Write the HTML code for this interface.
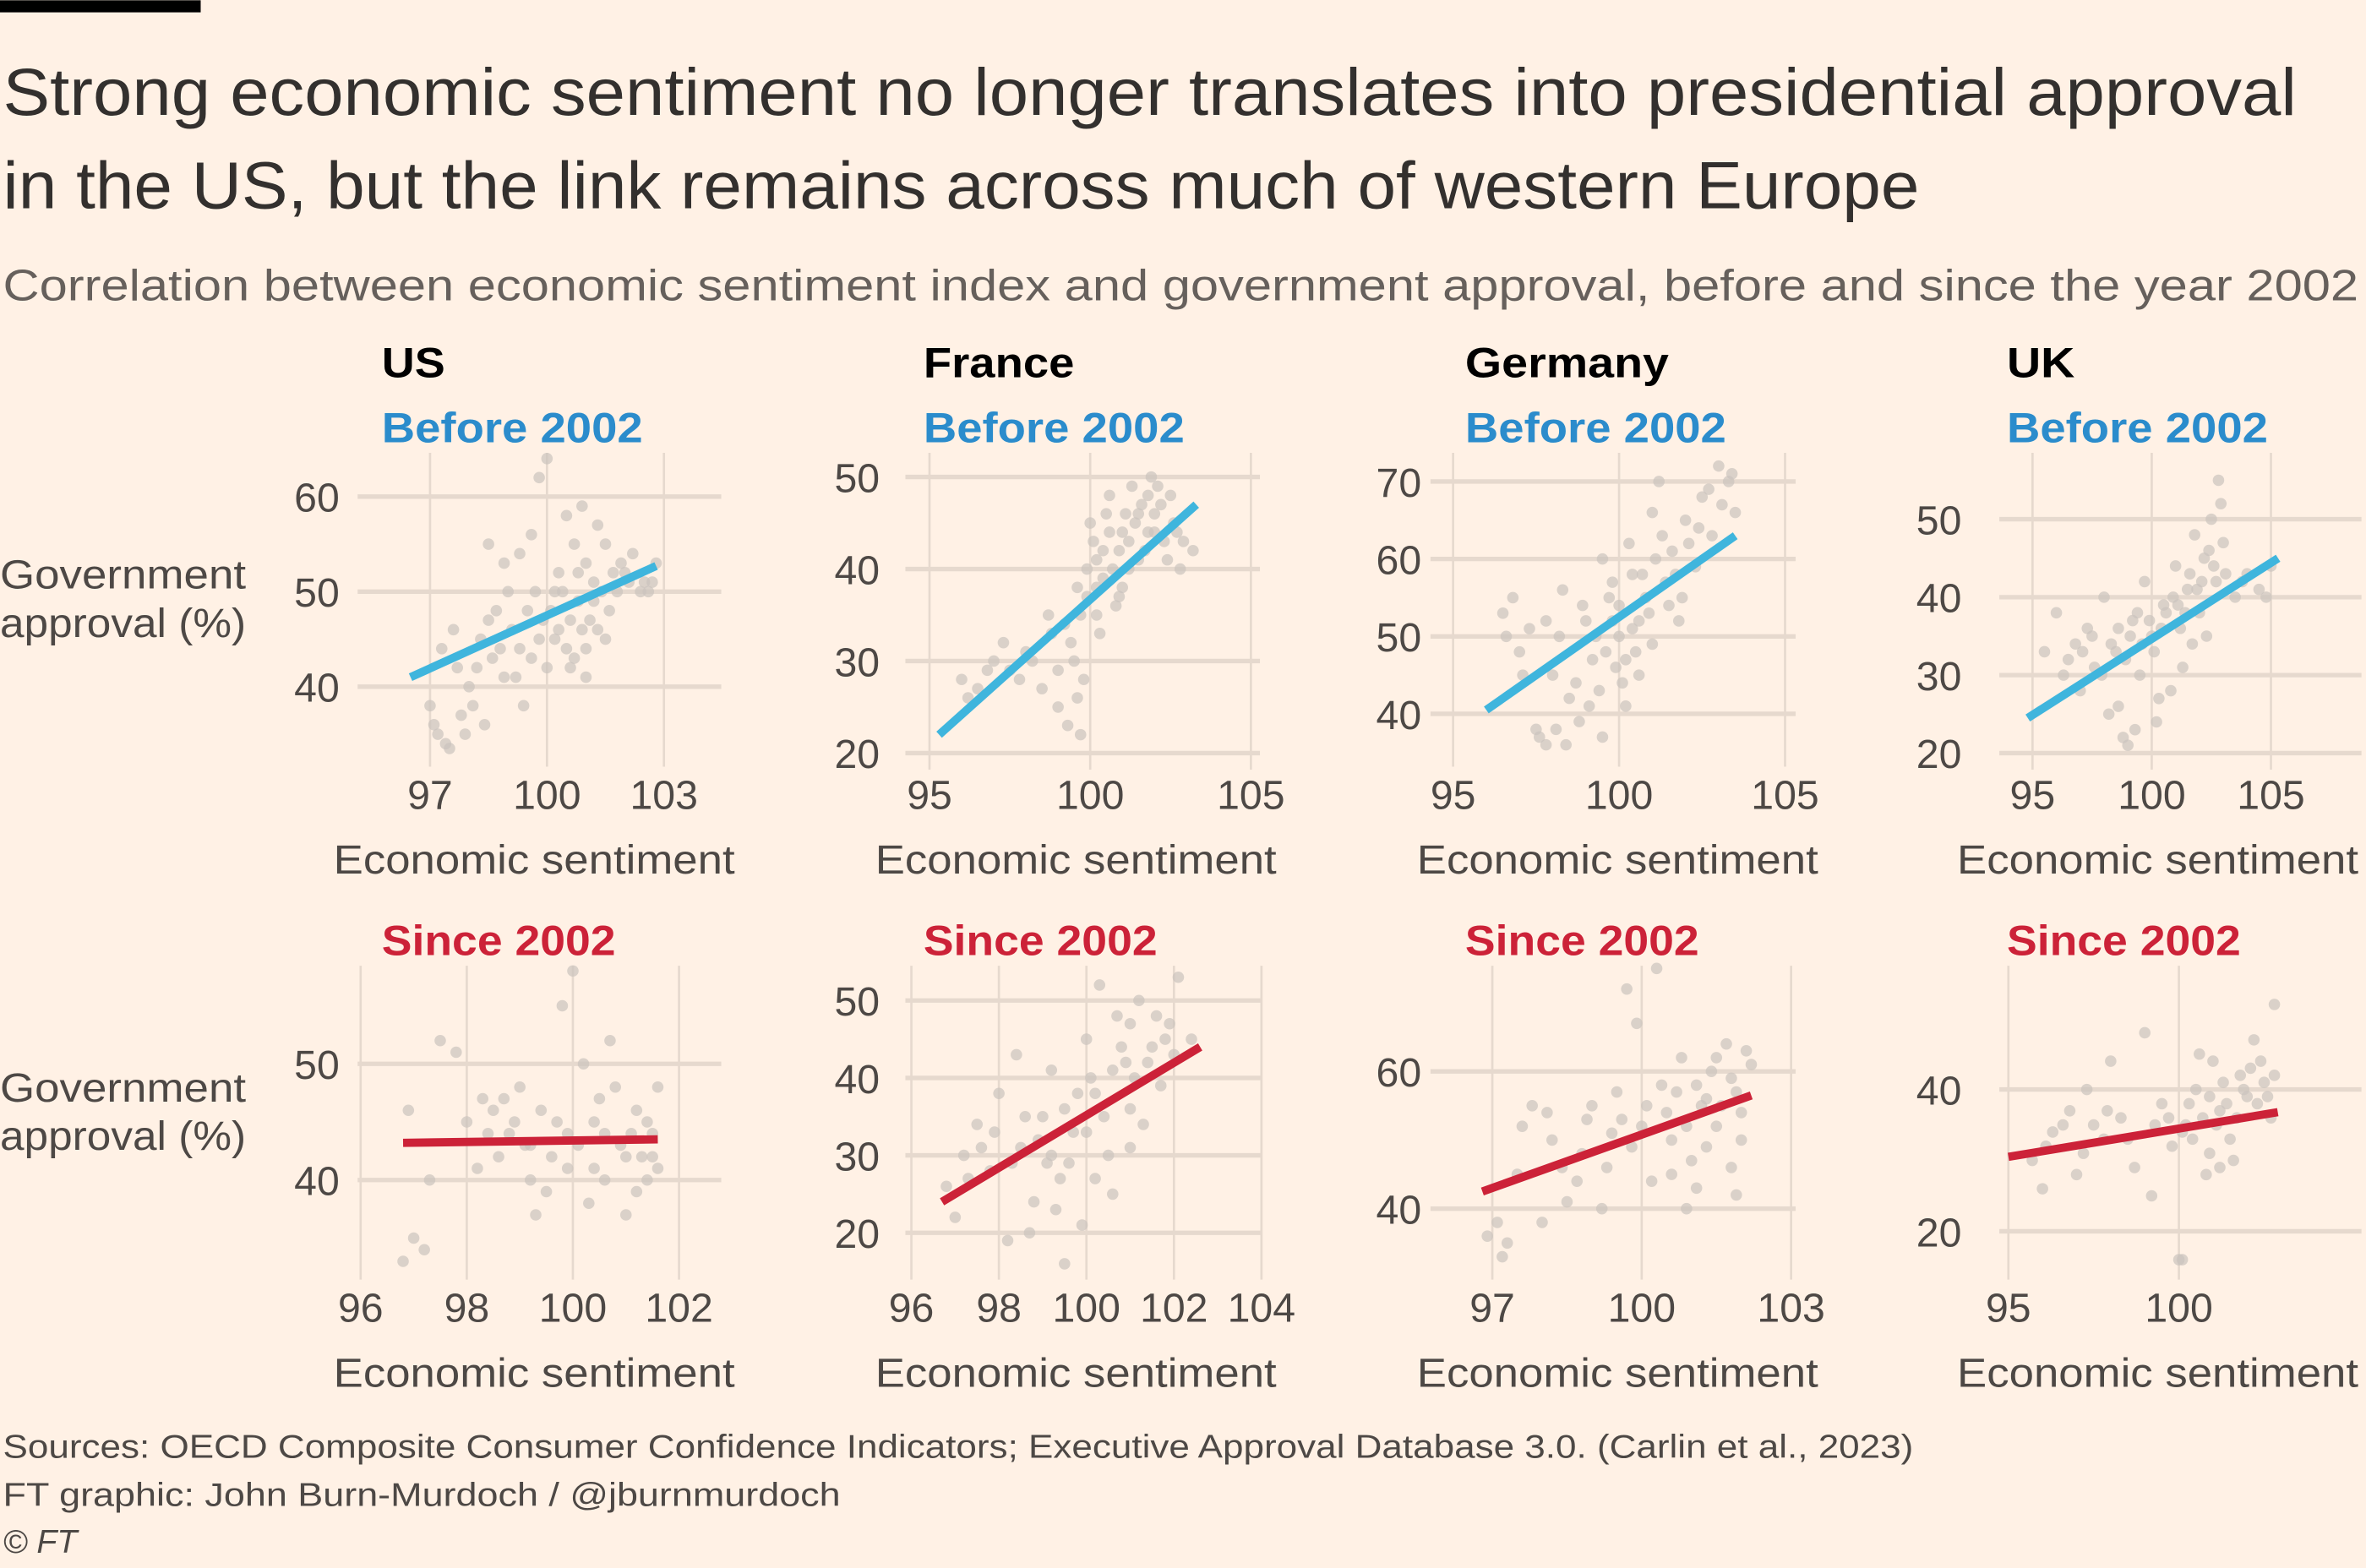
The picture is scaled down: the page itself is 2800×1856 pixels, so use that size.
<!DOCTYPE html>
<html><head><meta charset="utf-8">
<style>
html,body{margin:0;padding:0;background:#fff1e5;}
svg{display:block;font-family:"Liberation Sans","DejaVu Sans",sans-serif;}
</style></head>
<body>
<svg id="chart" width="2800" height="1856" viewBox="0 0 1568 1039" xmlns="http://www.w3.org/2000/svg">
<rect width="1568" height="1039" fill="#fff1e5"/>
<rect x="0" y="0" width="133" height="8" fill="#000"/>
<text x="2" y="76" font-size="44" fill="#33302e" textLength="1520" lengthAdjust="spacingAndGlyphs">Strong economic sentiment no longer translates into presidential approval</text>
<text x="2" y="138" font-size="44" fill="#33302e" textLength="1270" lengthAdjust="spacingAndGlyphs">in the US, but the link remains across much of western Europe</text>
<text x="2" y="199" font-size="29" fill="#66605c" textLength="1561" lengthAdjust="spacingAndGlyphs">Correlation between economic sentiment index and government approval, before and since the year 2002</text>
<text x="0" y="390" font-size="27" fill="#4d4845" textLength="163" lengthAdjust="spacingAndGlyphs">Government</text>
<text x="0" y="422" font-size="27" fill="#4d4845" textLength="163" lengthAdjust="spacingAndGlyphs">approval (%)</text>
<text x="0" y="730" font-size="27" fill="#4d4845" textLength="163" lengthAdjust="spacingAndGlyphs">Government</text>
<text x="0" y="762" font-size="27" fill="#4d4845" textLength="163" lengthAdjust="spacingAndGlyphs">approval (%)</text>
<text x="2" y="966" font-size="22" fill="#4d4845" textLength="1266" lengthAdjust="spacingAndGlyphs">Sources: OECD Composite Consumer Confidence Indicators; Executive Approval Database 3.0. (Carlin et al., 2023)</text>
<text x="2" y="998" font-size="22" fill="#4d4845" textLength="555" lengthAdjust="spacingAndGlyphs">FT graphic: John Burn-Murdoch / @jburnmurdoch</text>
<text x="2" y="1029" font-size="22" fill="#4d4845" font-style="italic">© FT</text>
<g id="panels"></g>
</svg>
<script>
// ---- data ----
const countries = ["US","France","Germany","UK"];
const periods = ["Before 2002","Since 2002"];

const xTicksUSBefore = [97,100,103];
const yTicksUSBefore = [40,50,60];
const fitUSBefore = [[96.5,41],[102.8,52.7]];
const ptsUSBefore = [[97,38],[97.2,35],[97.5,33.5],[97.8,37],[98,40],[97.3,44],[97.6,46],[98.2,42],[98.5,47],[98.8,44],[99,50],[99.2,41],[99.5,48],[99.6,56],[99.8,62],[100,64],[100.2,45],[100.3,52],[100.5,58],[100.6,47],[100.8,49],[101,53],[101,44],[101.2,51],[101.5,55],[101.6,48],[101.8,50],[102,52],[102.2,54],[102.5,51],[102.8,53],[102.6,50],[100,42],[99.4,38],[98.4,36],[100.7,55],[101.3,46],[99.9,47],[100.4,50],[98.9,53],
 [97.1,36],[97.4,34],[97.9,35],[98.1,38],[98.3,45],[98.6,43],[98.9,41],[99.1,46],[99.3,44],[99.6,43],[99.8,45],[100.1,48],[100.3,46],[100.5,44],[100.7,43],[100.9,46],[101.1,47],[101.2,49],[101.4,50],[101.7,52],[101.9,53],[102.1,51],[102.4,50],[102.7,51],[100.2,50],[100.8,52],[101.5,45],[99.7,50],[98.7,48],[97.7,42],[101,41],[100.6,42],[99.3,54],[98.5,55],[100.9,59],[101.3,57]];

const xTicksFRBefore = [95,100,105];
const yTicksFRBefore = [20,30,40,50];
const fitFRBefore = [[95.3,22],[103.3,47]];
const ptsFRBefore = [[96,28],[96.5,27],[97,30],[97.5,29],[98,31],[98.5,27],[98.8,33],[99,25],[99.3,23],[99.5,30],[99.7,35],[99.9,40],[100,45],[100.2,38],[100.4,42],[100.6,48],[100.8,36],[101,44],[101.2,40],[101.3,49],[101.5,46],[101.7,42],[101.9,50],[102,44],[102.2,47],[102.4,41],[102.6,45],[102.9,43],[103.2,42],[100.3,33],[99.8,28],[101,38],[100.5,46],[101.8,48],[99.2,34],
 [96.2,26],[96.8,29],[97.3,32],[97.8,28],[98.2,30],[98.7,35],[99,29],[99.4,32],[99.6,26],[99.7,22],[99.9,37],[100.1,43],[100.2,41],[100.4,39],[100.6,44],[100.7,40],[100.9,42],[101.1,46],[101.2,43],[101.4,45],[101.6,47],[101.8,44],[102,46],[102.1,49],[102.3,43],[102.5,48],[102.7,44],[101.5,41],[100.9,37],[100.2,35],[99.6,38],[102.8,40]];

const xTicksDEBefore = [95,100,105];
const yTicksDEBefore = [40,50,60,70];
const fitDEBefore = [[96,40.5],[103.5,63]];
const ptsDEBefore = [[96.5,53],[96.8,55],[97,48],[97.3,51],[97.5,38],[97.8,36],[98,45],[98.3,56],[98.5,42],[98.8,39],[99,52],[99.2,47],[99.5,60],[99.7,55],[100,50],[100.1,44],[100.3,62],[100.5,48],[100.7,58],[100.9,53],[101,66],[101.2,70],[101.4,57],[101.6,61],[101.8,52],[102,65],[102.3,59],[102.5,68],[102.8,63],[103,72],[103.3,70],[103.5,66],[99.5,37],[100.2,41],[98.2,50],[99.8,57],
 [96.6,50],[97.1,45],[97.6,37],[98.1,38],[98.4,36],[98.7,44],[99.1,41],[99.3,50],[99.6,48],[99.8,52],[100,54],[100.2,47],[100.4,51],[100.6,45],[100.8,55],[101,49],[101.1,60],[101.3,63],[101.5,54],[101.7,58],[102.1,62],[102.4,64],[102.7,69],[103.1,67],[103.4,71],[100.4,58],[99.9,46],[99.4,43],[100.6,52],[101.9,55],[98.9,54],[97.8,52]];

const xTicksUKBefore = [95,100,105];
const yTicksUKBefore = [20,30,40,50];
const fitUKBefore = [[94.8,24.5],[105.3,45]];
const ptsUKBefore = [[95.5,33],[96,38],[96.3,30],[96.8,34],[97,28],[97.3,36],[97.6,31],[98,40],[98.2,25],[98.5,33],[98.8,22],[99,21],[99.2,37],[99.5,30],[99.7,42],[100,35],[100.2,24],[100.5,39],[100.8,28],[101,44],[101.2,36],[101.5,41],[101.8,48],[102,38],[102.2,45],[102.5,50],[102.7,42],[102.8,55],[103,47],[103.5,40],[104,43],[104.5,41],[105,44],[101.3,31],[100.3,27],
 [96.5,32],[97.1,33],[97.5,35],[97.9,30],[98.3,34],[98.6,36],[98.9,32],[99.1,35],[99.4,38],[99.6,34],[99.9,37],[100.1,33],[100.4,36],[100.6,38],[100.9,40],[101.1,39],[101.4,38],[101.6,43],[101.9,41],[102.1,42],[102.4,46],[102.6,44],[102.9,52],[103.1,43],[103.8,42],[104.8,40],[99.3,23],[98.6,26],[101.7,34],[102.3,35]];

const xTicksUSSince = [96,98,100,102];
const yTicksUSSince = [40,50];
const fitUSSince = [[96.8,43.2],[101.6,43.5]];
const ptsUSSince = [[96.8,33],[97,35],[97.2,34],[97.5,52],[97.8,51],[96.9,46],[97.3,40],[98,45],[98.2,41],[98.5,46],[98.8,44],[99,48],[99.2,43],[99.5,39],[99.7,45],[99.8,55],[100,58],[100.2,50],[100.4,41],[100.6,44],[100.8,48],[101,37],[101,42],[101.2,46],[101.4,40],[101.5,44],[101.6,48],[99.3,37],[98.6,42],[100.7,52],[100.3,38],[101.3,42],
 [98.4,44],[98.7,47],[98.9,45],[99.1,43],[99.4,46],[99.6,42],[99.9,44],[100.1,43],[100.4,45],[100.6,40],[100.9,43],[101.1,44],[101.2,39],[101.4,45],[101.5,42],[101.6,41],[99.9,41],[100.5,47],[98.3,47],[99.2,40]];

const xTicksFRSince = [96,98,100,102,104];
const yTicksFRSince = [20,30,40,50];
const fitFRSince = [[96.7,24],[102.6,44]];
const ptsFRSince = [[96.8,26],[97,22],[97.2,30],[97.5,34],[97.8,28],[98,38],[98.2,19],[98.5,31],[98.8,24],[99,35],[99.2,41],[99.4,27],[99.5,16],[99.7,33],[100,45],[100.2,38],[100.3,52],[100.5,30],[100.7,48],[100.9,42],[101,36],[101.2,50],[101.5,44],[101.7,39],[101.9,47],[102.1,53],[102.4,45],[99.9,21],[98.4,43],[100.6,25],[101.3,34],[99.1,29],
 [97.3,27],[97.6,31],[97.9,33],[98.3,29],[98.6,35],[98.9,32],[99.2,30],[99.5,36],[99.6,29],[99.8,38],[100,33],[100.1,40],[100.4,35],[100.6,41],[100.8,44],[101,47],[101.1,40],[101.4,42],[101.6,48],[101.8,45],[102,43],[100.2,27],[99.3,23],[98.7,20],[101,31]];

const xTicksDESince = [97,100,103];
const yTicksDESince = [40,60];
const fitDESince = [[96.8,42.5],[102.2,56.5]];
const ptsDESince = [[96.9,36],[97.2,33],[97.5,45],[97.8,55],[98,38],[98.2,50],[98.5,41],[98.8,48],[99,55],[99.3,46],[99.5,57],[99.7,72],[99.9,67],[100,52],[100.2,44],[100.4,58],[100.6,50],[100.8,62],[101,47],[101.2,55],[101.4,60],[101.5,52],[101.7,64],[101.9,57],[102,50],[102.2,61],[100.9,40],[99.2,40],[101.8,46],[100.3,75],
 [97.1,38],[97.6,52],[98.1,54],[98.4,46],[98.9,53],[99.4,51],[99.8,49],[100.1,55],[100.5,54],[100.7,57],[100.9,52],[101.1,58],[101.3,56],[101.5,62],[101.6,55],[101.8,59],[102,54],[102.1,63],[101.3,49],[100.6,45],[99.6,53],[98.7,44],[97.3,35],[101.1,43],[101.9,42]];

const xTicksUKSince = [95,100];
const yTicksUKSince = [20,40];
const fitUKSince = [[95,30.5],[102.9,36.8]];
const ptsUKSince = [[95.7,30],[96,26],[96.3,34],[96.8,37],[97,28],[97.3,40],[97.8,33],[98,44],[98.3,36],[98.7,29],[99,48],[99.5,38],[99.8,32],[100,16],[100.2,35],[100.5,40],[100.8,28],[101,44],[101.2,37],[101.5,33],[101.8,42],[102,39],[102.2,47],[102.5,41],[102.7,36],[102.8,52],[101.6,30],[100.6,45],[99.2,25],[97.5,35],
 [96.1,32],[96.6,35],[97.2,31],[97.9,37],[98.5,33],[99.3,35],[99.7,36],[100.1,34],[100.3,38],[100.4,33],[100.7,36],[100.9,39],[101.1,35],[101.3,41],[101.4,38],[101.7,36],[101.9,40],[102.1,43],[102.3,38],[102.4,44],[102.6,39],[102.8,42],[100.9,31],[101.2,29],[100.1,16]];

// ---- layout (pixel frames; not data) ----
const NS = "http://www.w3.org/2000/svg";
const root = document.getElementById('panels');
function mk(tag, attrs, txt){ const e=document.createElementNS(NS,tag); for(const k in attrs) e.setAttribute(k,attrs[k]); if(txt!==undefined) e.textContent=txt; return e; }

const titleW = {US:42, France:100, Germany:135, UK:45};
const panels = [
 {c:0,p:0,xt:xTicksUSBefore,yt:yTicksUSBefore,fit:fitUSBefore,pts:ptsUSBefore, xd:[97,103],xr:[285,440], yd:[40,60],yr:[455,329], box:[237,478,300,508], lab:225, cx:253, ax:221},
 {c:1,p:0,xt:xTicksFRBefore,yt:yTicksFRBefore,fit:fitFRBefore,pts:ptsFRBefore, xd:[95,105],xr:[616,829], yd:[20,50],yr:[499,316], box:[600,835,300,510], lab:583, cx:612, ax:580},
 {c:2,p:0,xt:xTicksDEBefore,yt:yTicksDEBefore,fit:fitDEBefore,pts:ptsDEBefore, xd:[95,105],xr:[963,1183], yd:[40,70],yr:[473,319], box:[948,1190,300,508], lab:942, cx:971, ax:939},
 {c:3,p:0,xt:xTicksUKBefore,yt:yTicksUKBefore,fit:fitUKBefore,pts:ptsUKBefore, xd:[95,105],xr:[1347,1505], yd:[20,50],yr:[499,344], box:[1325,1565,300,510], lab:1300, cx:1330, ax:1297},
 {c:0,p:1,xt:xTicksUSSince,yt:yTicksUSSince,fit:fitUSSince,pts:ptsUSSince, xd:[96,102],xr:[239,450], yd:[40,50],yr:[782,705], box:[237,478,640,848], lab:225, cx:253, ax:221},
 {c:1,p:1,xt:xTicksFRSince,yt:yTicksFRSince,fit:fitFRSince,pts:ptsFRSince, xd:[96,104],xr:[604,836], yd:[20,50],yr:[817,663], box:[600,836,640,848], lab:583, cx:612, ax:580},
 {c:2,p:1,xt:xTicksDESince,yt:yTicksDESince,fit:fitDESince,pts:ptsDESince, xd:[97,103],xr:[989,1187], yd:[40,60],yr:[801,710], box:[948,1190,640,848], lab:942, cx:971, ax:939},
 {c:3,p:1,xt:xTicksUKSince,yt:yTicksUKSince,fit:fitUKSince,pts:ptsUKSince, xd:[95,100],xr:[1331,1444], yd:[20,40],yr:[816,722], box:[1325,1565,640,848], lab:1300, cx:1330, ax:1297}
];

panels.forEach(P=>{
  const sx = v => P.xr[0] + (v-P.xd[0])*(P.xr[1]-P.xr[0])/(P.xd[1]-P.xd[0]);
  const sy = v => P.yr[0] + (v-P.yd[0])*(P.yr[1]-P.yr[0])/(P.yd[1]-P.yd[0]);
  const key = countries[P.c].toLowerCase()+'-'+(P.p?'since':'before');
  const g = mk('g',{});
  
  
  root.appendChild(g);
  const [bx0,bx1,by0,by1] = P.box;
  const rowTop = P.p ? 633 : 293;
  if(!P.p){
    const t = mk('text',{x:P.cx,y:250,'font-size':28,'font-weight':'bold',fill:'#000',textLength:titleW[countries[P.c]],lengthAdjust:'spacingAndGlyphs'},countries[P.c]);
    
    
    g.appendChild(t);
  }
  const st = mk('text',{x:P.cx,y:rowTop,'font-size':28,'font-weight':'bold',fill:P.p?'#cc2238':'#2b8ccc',textLength:P.p?155:173,lengthAdjust:'spacingAndGlyphs'},periods[P.p]);
  
  
  g.appendChild(st);
  P.xt.forEach(v=>{
    const l = mk('line',{x1:sx(v),x2:sx(v),y1:by0,y2:by1,stroke:'#e6d9ce','stroke-width':1.5});
    
    
    g.appendChild(l);
    const t = mk('text',{x:sx(v),y:P.p?876:536,'font-size':27,fill:'#4d4845','text-anchor':'middle'},v);
    
    
    g.appendChild(t);
  });
  P.yt.forEach(v=>{
    const l = mk('line',{x1:bx0,x2:bx1,y1:sy(v),y2:sy(v),stroke:'#e6d9ce','stroke-width':3});
    
    
    g.appendChild(l);
    const t = mk('text',{x:P.lab,y:sy(v)+10,'font-size':27,fill:'#4d4845','text-anchor':'end'},v);
    
    
    g.appendChild(t);
  });
  P.pts.forEach(d=>{
    const c = mk('circle',{cx:sx(d[0]),cy:sy(d[1]),r:3.8,fill:'#cbc3bd','fill-opacity':0.7});
    
    
    g.appendChild(c);
  });
  const fl = mk('line',{x1:sx(P.fit[0][0]),y1:sy(P.fit[0][1]),x2:sx(P.fit[1][0]),y2:sy(P.fit[1][1]),stroke:P.p?'#cc2238':'#3fb5dd','stroke-width':5.5});
  
  
  g.appendChild(fl);
  const at = mk('text',{x:P.ax,y:P.p?919:579,'font-size':27,fill:'#4d4845',textLength:266,lengthAdjust:'spacingAndGlyphs'},'Economic sentiment');
  
  
  g.appendChild(at);
});
</script>
</body></html>
